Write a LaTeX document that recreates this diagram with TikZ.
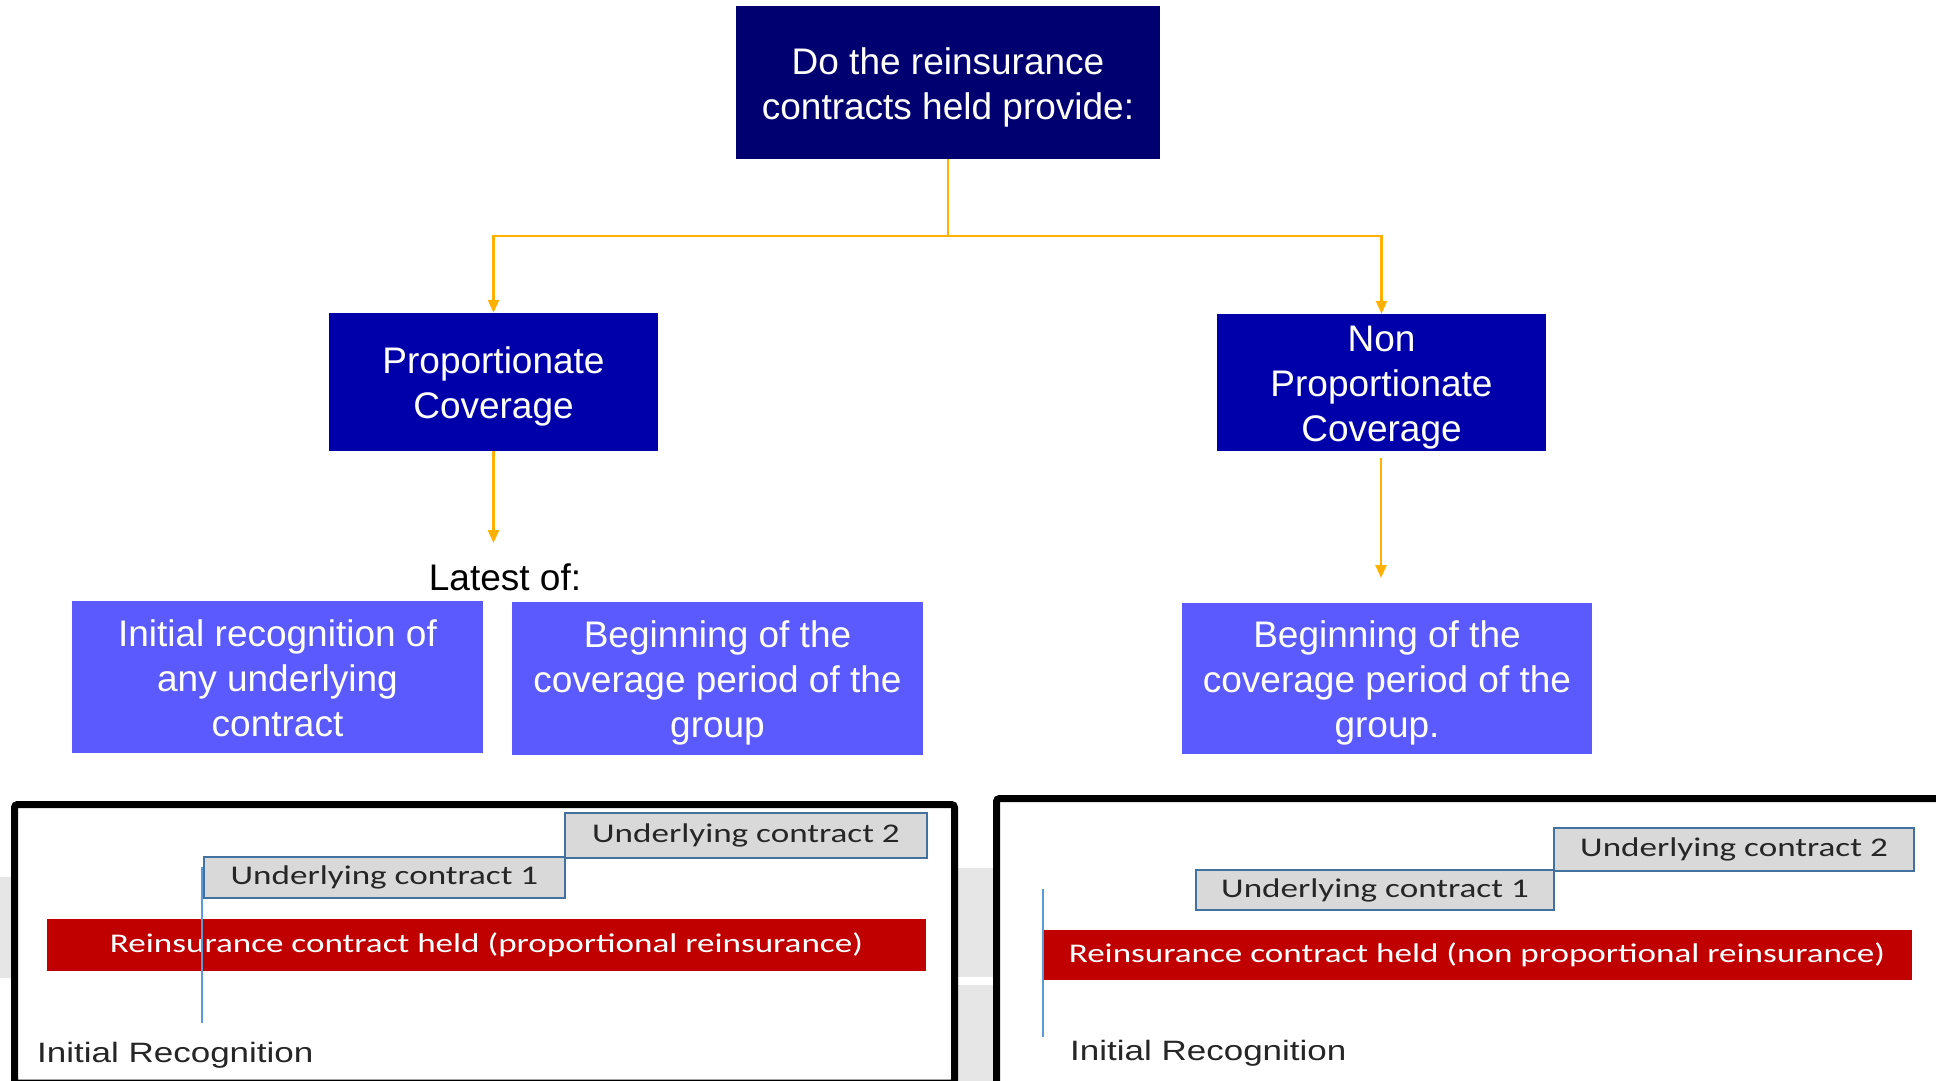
\documentclass[tikz,border=0pt]{standalone}
\usepackage{fontspec}
\setmainfont{Liberation Sans}
\newfontfamily\calib[FakeStretch=1.3]{Carlito}
\newfontfamily\arialw[FakeStretch=1.25]{Liberation Sans}
\usetikzlibrary{arrows.meta,calc}
\definecolor{navy}{RGB}{0,0,112}
\definecolor{midblue}{RGB}{0,0,170}
\definecolor{lightblue}{RGB}{90,90,255}
\definecolor{orangeline}{RGB}{255,176,0}
\definecolor{ucgray}{RGB}{217,217,217}
\definecolor{ucedge}{RGB}{65,113,156}
\definecolor{redbar}{RGB}{192,0,0}
\definecolor{irline}{RGB}{91,155,213}
\definecolor{bggray}{RGB}{230,230,230}
\definecolor{txtgray}{RGB}{38,38,38}
\newcommand{\boxtxt}[2]{\raisebox{#1}[\height][\depth]{\begin{tabular}{@{}c@{}}#2\end{tabular}}}
\tikzset{
  box/.style={rectangle, inner sep=0pt, text=white,
    font=\fontsize{37}{45}\selectfont},
  topbox/.style={box, fill=navy},
  midbox/.style={box, fill=midblue},
  lowbox/.style={box, fill=lightblue},
  arr/.style={draw=orangeline, line width=2.5pt, -{Triangle[length=13pt,width=11pt]}},
  conn/.style={draw=orangeline, line width=2.5pt},
  ucbox/.style={rectangle, inner sep=0pt, fill=ucgray, draw=ucedge, line width=2pt,
    text=txtgray, font=\calib\fontsize{27}{30}\selectfont},
  redbox/.style={rectangle, inner sep=0pt, fill=redbar, text=white,
    font=\calib\fontsize{27}{30}\selectfont},
  panel/.style={draw=black, line width=7pt, rounded corners=3pt},
  irline/.style={draw=irline, line width=2pt},
  irtext/.style={anchor=base west, inner sep=0pt, text=txtgray,
    font=\arialw\fontsize{28}{32}\selectfont},
}
\begin{document}
\begin{tikzpicture}[x=1pt,y=-1pt]
\useasboundingbox (0,0) rectangle (1936,1081);
\fill[white] (0,0) rectangle (1936,1081);
% grey background bands
\fill[bggray] (0,877) rectangle (11,978);
\fill[bggray] (958,868) rectangle (993,977);
\fill[bggray] (958,985) rectangle (993,1081);

% top boxes
\node[topbox, minimum width=424pt, minimum height=153pt] (top) at (948,82.5)
  {\boxtxt{-5pt}{Do the reinsurance\\contracts held provide:}};
\node[midbox, minimum width=329pt, minimum height=138pt] (prop) at (493.5,382)
  {\boxtxt{-5pt}{Proportionate\\Coverage}};
\node[midbox, minimum width=329pt, minimum height=137pt] (np) at (1381.5,382.5)
  {\boxtxt{-5pt}{Non\\Proportionate\\Coverage}};

\coordinate (j) at (948,236);
\draw[conn] (top.south) -- (j);
\draw[arr] (j) -| (prop.north);
\draw[arr] (j) -| (np.north);

\node[inner sep=0pt, font=\fontsize{37}{45}\selectfont] (latest) at (505,577) {Latest of:};
\coordinate (pl) at (493.5,543);
\draw[arr] (prop.south) -- (pl);

\coordinate (ns) at (1381,458);
\coordinate (nr) at (1381,578);
\draw[arr] (ns) -- (nr);

\node[lowbox, minimum width=411pt, minimum height=152pt] (l1) at (277.5,677)
  {\boxtxt{-5pt}{Initial recognition of\\any underlying\\contract}};
\node[lowbox, minimum width=411pt, minimum height=153pt] (l2) at (717.5,678.5)
  {\boxtxt{-5pt}{Beginning of the\\coverage period of the\\group}};
\node[lowbox, minimum width=410pt, minimum height=151pt] (l3) at (1387,678.5)
  {\boxtxt{-5pt}{Beginning of the\\coverage period of the\\group.}};

% left panel
\draw[panel] (14.5,804.5) rectangle (954.5,1083);
\node[ucbox, minimum width=362pt, minimum height=45pt] (luc2) at (746,835.5) {Underlying contract 2};
\node[ucbox, minimum width=361pt, minimum height=41pt] (luc1) at (384.5,877.5) {Underlying contract 1};
\node[redbox, minimum width=879pt, minimum height=52pt] (lred) at (486.5,945)
  {Reinsurance contract held (proportional reinsurance)};
\coordinate (lirt) at (202,867);
\coordinate (lirb) at (202,1023);
\draw[irline] (lirt) -- (lirb);
\node[irtext] (lir) at (37,1062) {Initial Recognition};

% right panel
\draw[panel] (996.5,798.5) rectangle (1942,1085);
\node[ucbox, minimum width=360pt, minimum height=43pt] (ruc2) at (1734,849.5) {Underlying contract 2};
\node[ucbox, minimum width=358pt, minimum height=40pt] (ruc1) at (1375,890) {Underlying contract 1};
\node[redbox, minimum width=870pt, minimum height=50pt] (rred) at (1477,955)
  {Reinsurance contract held (non proportional reinsurance)};
\coordinate (rirt) at (1043,889);
\coordinate (rirb) at (1043,1037);
\draw[irline] (rirt) -- (rirb);
\node[irtext] (rir) at (1070,1060) {Initial Recognition};
\end{tikzpicture}
\end{document}
